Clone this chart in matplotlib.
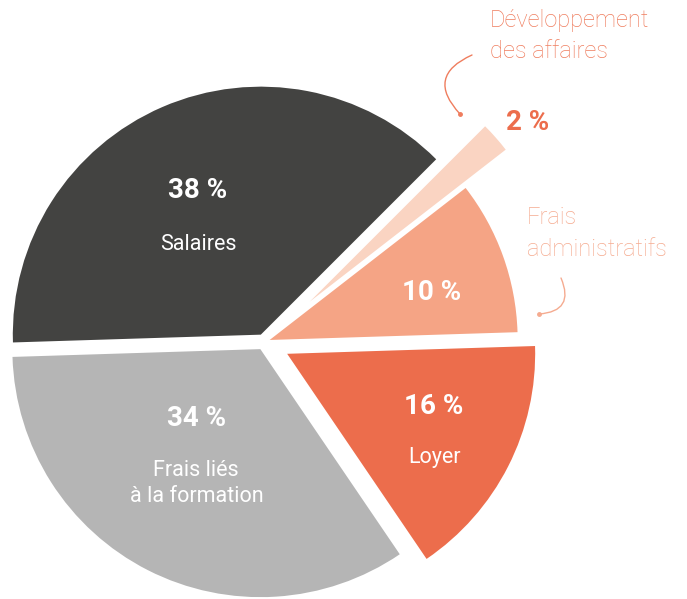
import matplotlib.pyplot as plt

# Répartition des dépenses (%)
categories = ['Salaires', 'Développement des affaires', 'Frais administratifs',
              'Loyer', 'Frais liés à la formation']
valeurs = [38, 2, 10, 16, 34]
couleurs = ['#434341', '#fad4c2', '#f5a485', '#ec6d4c', '#b5b5b5']
# décalage des parts (en pixels, pie() ne le met pas à l'échelle du rayon)
explode = [8, 61, 6, 26, 8]

W, H = 687, 599
fig = plt.figure(figsize=(W / 100, H / 100), dpi=100)
ax = fig.add_axes([0, 0, 1, 1])

ax.pie(valeurs, colors=couleurs, explode=explode, startangle=181.8,
       counterclock=False, radius=248, center=(264, H - 342),
       wedgeprops=dict(linewidth=0))

ax.set_xlim(0, W)
ax.set_ylim(0, H)
ax.set_aspect('equal')
ax.axis('off')

FONT = 'Roboto'


def txt(x, y, s, size, color, weight='normal', ha='center'):
    # coordonnées en pixels image (y vers le bas)
    ax.text(x, H - y, s, fontsize=size, color=color, fontweight=weight,
            ha=ha, va='center', family=FONT)


# Étiquettes intérieures
txt(198, 190, f'{valeurs[0]} %', 20, 'white', 'bold')
txt(198, 245, categories[0], 15.5, 'white')
txt(197, 418, f'{valeurs[4]} %', 20, 'white', 'bold')
txt(196, 470, 'Frais liés', 15.5, 'white')
txt(197, 497, 'à la formation', 15.5, 'white')
txt(434, 407, f'{valeurs[3]} %', 20, 'white', 'bold')
txt(434, 458, categories[3], 15.5, 'white')
txt(432, 292, f'{valeurs[2]} %', 20, 'white', 'bold')

# Étiquettes extérieures
txt(528, 122, f'{valeurs[1]} %', 20, '#ec6d4c', 'bold')
txt(490, 20, 'Développement', 17, '#ef7d5e', 'light', ha='left')
txt(490, 52, 'des affaires', 17, '#ef7d5e', 'light', ha='left')
txt(527, 218, 'Frais', 17, '#f5ab90', 'light', ha='left')
txt(527, 250, 'administratifs', 17, '#f5ab90', 'light', ha='left')

# Traits de rappel
ax.annotate('', xy=(460, H - 114), xytext=(472, H - 55),
            arrowprops=dict(arrowstyle='-', color='#ef7d5e', lw=1,
                            connectionstyle='arc3,rad=0.7', shrinkA=0, shrinkB=0))
ax.plot(460, H - 114, 'o', color='#ef7d5e', ms=2.5)
ax.annotate('', xy=(539, H - 314), xytext=(561, H - 278),
            arrowprops=dict(arrowstyle='-', color='#f5ab90', lw=1,
                            connectionstyle='arc3,rad=-0.7', shrinkA=0, shrinkB=0))
ax.plot(539, H - 314, 'o', color='#f5ab90', ms=2.5)

fig.savefig('out.png', dpi=100, facecolor='white')
